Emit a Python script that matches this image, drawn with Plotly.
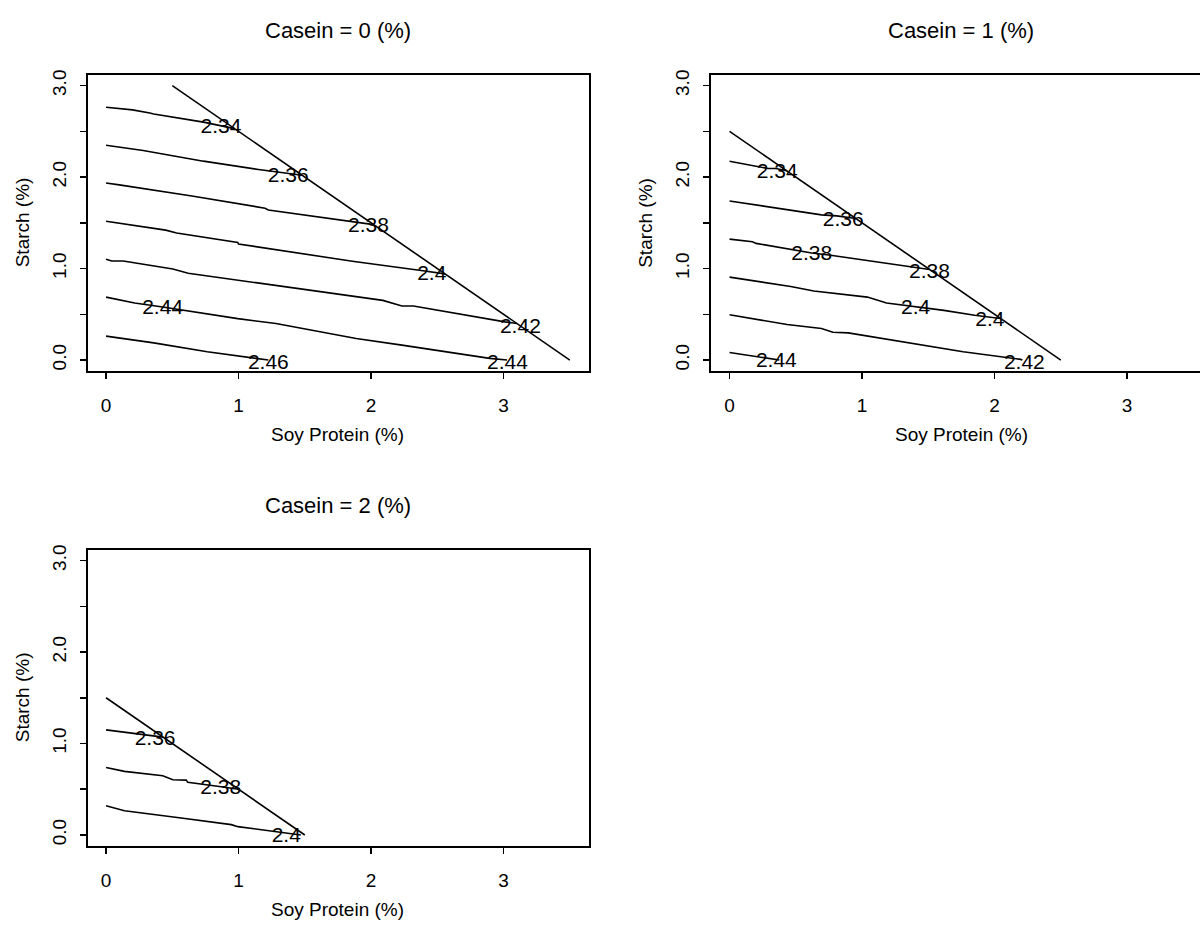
import plotly.graph_objects as go

W, H = 1200, 930
FONT = "Liberation Sans, Arial, Helvetica, sans-serif"

# ---------------- text ----------------
panel_titles = ["Casein = 0 (%)", "Casein = 1 (%)", "Casein = 2 (%)"]
x_title = "Soy Protein (%)"
y_title = "Starch (%)"
x_tickvals = [0, 1, 2, 3]
x_ticktext = ["0", "1", "2", "3"]
y_tickvals = [0, 0.5, 1, 1.5, 2, 2.5, 3]
y_ticktext = ["0.0", "", "1.0", "", "2.0", "", "3.0"]

# ---------------- Casein = 0 ----------------
c0_bound_x = [0.5, 3.5]
c0_bound_y = [3.0, 0.0]
c0_234_x = [0, 0.20, 0.33, 0.36, 0.735, 0.97]
c0_234_y = [2.764, 2.735, 2.70, 2.69, 2.601, 2.53]
c0_236_x = [0, 0.245, 0.28, 0.735, 1.124, 1.15, 1.48]
c0_236_y = [2.348, 2.30, 2.29, 2.174, 2.09, 2.083, 2.02]
c0_238_x = [0, 0.10, 0.648, 1.08, 1.20, 1.225, 1.80, 2.02]
c0_238_y = [1.935, 1.915, 1.793, 1.685, 1.66, 1.641, 1.522, 1.48]
c0_240_x = [0, 0.274, 0.45, 0.533, 0.735, 0.994, 1.0, 1.859, 2.378, 2.558]
c0_240_y = [1.518, 1.457, 1.42, 1.388, 1.341, 1.285, 1.268, 1.08, 0.978, 0.942]
c0_242_x = [0, 0.043, 0.13, 0.504, 0.62, 1.225, 2.089, 2.233, 2.32, 3.01, 3.10]
c0_242_y = [1.101, 1.083, 1.083, 0.996, 0.949, 0.826, 0.652, 0.591, 0.591, 0.417, 0.40]
c0_244_x = [0, 0.13, 0.216, 0.427, 0.994, 1.282, 1.888, 2.233, 2.896, 3.026]
c0_244_y = [0.688, 0.652, 0.623, 0.58, 0.453, 0.399, 0.236, 0.163, 0.018, 0.0]
c0_246_x = [0, 0.36, 0.764, 1.167, 1.225]
c0_246_y = [0.261, 0.188, 0.091, 0.018, 0.0]
c0_lab_text = ["2.34", "2.36", "2.38", "2.4", "2.42", "2.44", "2.44", "2.46"]
c0_lab_x = [0.867, 1.375, 1.98, 2.458, 3.127, 0.427, 3.03, 1.225]
c0_lab_y = [2.543, 2.0, 1.457, 0.935, 0.355, 0.562, -0.04, -0.043]

# ---------------- Casein = 1 ----------------
c1_bound_x = [0.0, 2.5]
c1_bound_y = [2.5, 0.0]
c1_234_x = [0, 0.176, 0.29, 0.35, 0.43]
c1_234_y = [2.174, 2.127, 2.094, 2.094, 2.07]
c1_236_x = [0, 0.231, 0.694, 0.809, 0.953]
c1_236_y = [1.739, 1.688, 1.587, 1.576, 1.547]
c1_238_x = [0, 0.087, 0.173, 0.20, 0.62, 0.75, 1.04, 1.416, 1.51]
c1_238_y = [1.322, 1.304, 1.293, 1.275, 1.17, 1.148, 1.087, 1.007, 0.99]
c1_240_x = [0, 0.462, 0.636, 1.04, 1.185, 1.618, 1.85, 2.023, 2.045]
c1_240_y = [0.906, 0.804, 0.754, 0.688, 0.623, 0.543, 0.489, 0.46, 0.455]
c1_242_x = [0, 0.434, 0.694, 0.78, 0.896, 1.329, 1.763, 2.197, 2.21]
c1_242_y = [0.496, 0.388, 0.344, 0.304, 0.297, 0.192, 0.091, 0.007, 0.0]
c1_244_x = [0, 0.231, 0.376]
c1_244_y = [0.083, 0.029, 0.0]
c1_lab_text = ["2.34", "2.36", "2.38", "2.38", "2.4", "2.4", "2.42", "2.44"]
c1_lab_x = [0.36, 0.858, 0.62, 1.509, 1.405, 1.965, 2.225, 0.353]
c1_lab_y = [2.047, 1.522, 1.152, 0.949, 0.562, 0.428, -0.043, -0.018]

# ---------------- Casein = 2 ----------------
c2_bound_x = [0.0, 1.5]
c2_bound_y = [1.5, 0.0]
c2_236_x = [0, 0.214, 0.43]
c2_236_y = [1.149, 1.109, 1.07]
c2_238_x = [0, 0.139, 0.428, 0.504, 0.605, 0.617, 0.869, 1.0]
c2_238_y = [0.738, 0.695, 0.647, 0.604, 0.60, 0.575, 0.527, 0.50]
c2_240_x = [0, 0.139, 0.567, 0.945, 0.995, 1.297, 1.47]
c2_240_y = [0.32, 0.265, 0.185, 0.113, 0.091, 0.029, 0.0]
c2_lab_text = ["2.36", "2.38", "2.4"]
c2_lab_x = [0.37, 0.866, 1.36]
c2_lab_y = [1.04, 0.50, -0.018]

panels = [
    ([(c0_bound_x, c0_bound_y), (c0_234_x, c0_234_y), (c0_236_x, c0_236_y),
      (c0_238_x, c0_238_y), (c0_240_x, c0_240_y), (c0_242_x, c0_242_y),
      (c0_244_x, c0_244_y), (c0_246_x, c0_246_y)],
     (c0_lab_x, c0_lab_y, c0_lab_text)),
    ([(c1_bound_x, c1_bound_y), (c1_234_x, c1_234_y), (c1_236_x, c1_236_y),
      (c1_238_x, c1_238_y), (c1_240_x, c1_240_y), (c1_242_x, c1_242_y),
      (c1_244_x, c1_244_y)],
     (c1_lab_x, c1_lab_y, c1_lab_text)),
    ([(c2_bound_x, c2_bound_y), (c2_236_x, c2_236_y), (c2_238_x, c2_238_y),
      (c2_240_x, c2_240_y)],
     (c2_lab_x, c2_lab_y, c2_lab_text)),
]

# ---------------- layout (pixel boxes) ----------------
# (left, right, top, bottom) of each plotting box in pixels
boxes = [(87.5, 588.5, 70, 368), (711, 1200, 70, 368), (87.5, 588.5, 547.5, 845.5)]
px_per_x = 132.5
x_lo = -0.14

fig = go.Figure()
for i, (lines, labs) in enumerate(panels):
    sfx = "" if i == 0 else str(i + 1)
    for lx, ly in lines:
        fig.add_trace(go.Scatter(x=lx, y=ly, mode="lines",
                                 line=dict(color="black", width=1.6),
                                 hoverinfo="skip", showlegend=False,
                                 xaxis="x" + sfx, yaxis="y" + sfx))
    fig.add_trace(go.Scatter(x=labs[0], y=labs[1], text=labs[2], mode="text",
                             textfont=dict(family=FONT, size=21, color="black"),
                             hoverinfo="skip", showlegend=False,
                             xaxis="x" + sfx, yaxis="y" + sfx))

axis_common = dict(showline=True, linecolor="black", linewidth=2,
                   ticks="outside", ticklen=6, tickwidth=1.5, tickcolor="black",
                   showgrid=False, zeroline=False,
                   tickfont=dict(family=FONT, size=19, color="black"))

annotations = []
for i, (l, r, t, b) in enumerate(boxes):
    sfx = "" if i == 0 else str(i + 1)
    x_hi = x_lo + (r - l) / px_per_x
    fig.layout["xaxis" + sfx] = dict(axis_common, domain=[l / W, r / W],
                                     range=[x_lo, x_hi], anchor="y" + sfx,
                                     tickvals=x_tickvals, ticktext=x_ticktext,
                                     mirror=True, ticklabelstandoff=10)
    fig.layout["yaxis" + sfx] = dict(axis_common, domain=[1 - b / H, 1 - t / H],
                                     range=[-0.12, 3.12], anchor="x" + sfx,
                                     tickvals=y_tickvals, ticktext=y_ticktext,
                                     tickangle=-90, mirror=(i != 1),
                                     ticklabelstandoff=6)
    full_r = l + 3.78 * px_per_x
    cx = (l + full_r) / 2
    annotations.append(dict(text=panel_titles[i], x=cx / W, y=1 - (t - 44) / H,
                            xref="paper", yref="paper", showarrow=False,
                            xanchor="center", yanchor="middle",
                            font=dict(family=FONT, size=22, color="black")))
    annotations.append(dict(text=x_title, x=cx / W, y=1 - (b + 64) / H,
                            xref="paper", yref="paper", showarrow=False,
                            xanchor="center", yanchor="middle",
                            font=dict(family=FONT, size=19, color="black")))
    annotations.append(dict(text=y_title, x=(l - 65) / W, y=1 - ((t + b) / 2) / H,
                            xref="paper", yref="paper", showarrow=False,
                            xanchor="center", yanchor="middle", textangle=-90,
                            font=dict(family=FONT, size=19, color="black")))

fig.update_layout(width=W, height=H, margin=dict(l=0, r=0, t=0, b=0),
                  paper_bgcolor="white", plot_bgcolor="white",
                  annotations=annotations, showlegend=False,
                  hovermode=False)

fig.write_html("out.html",
               config={"displayModeBar": False, "staticPlot": True},
               post_script="document.body.style.margin='0px';"
                           "document.body.style.overflow='hidden';")
